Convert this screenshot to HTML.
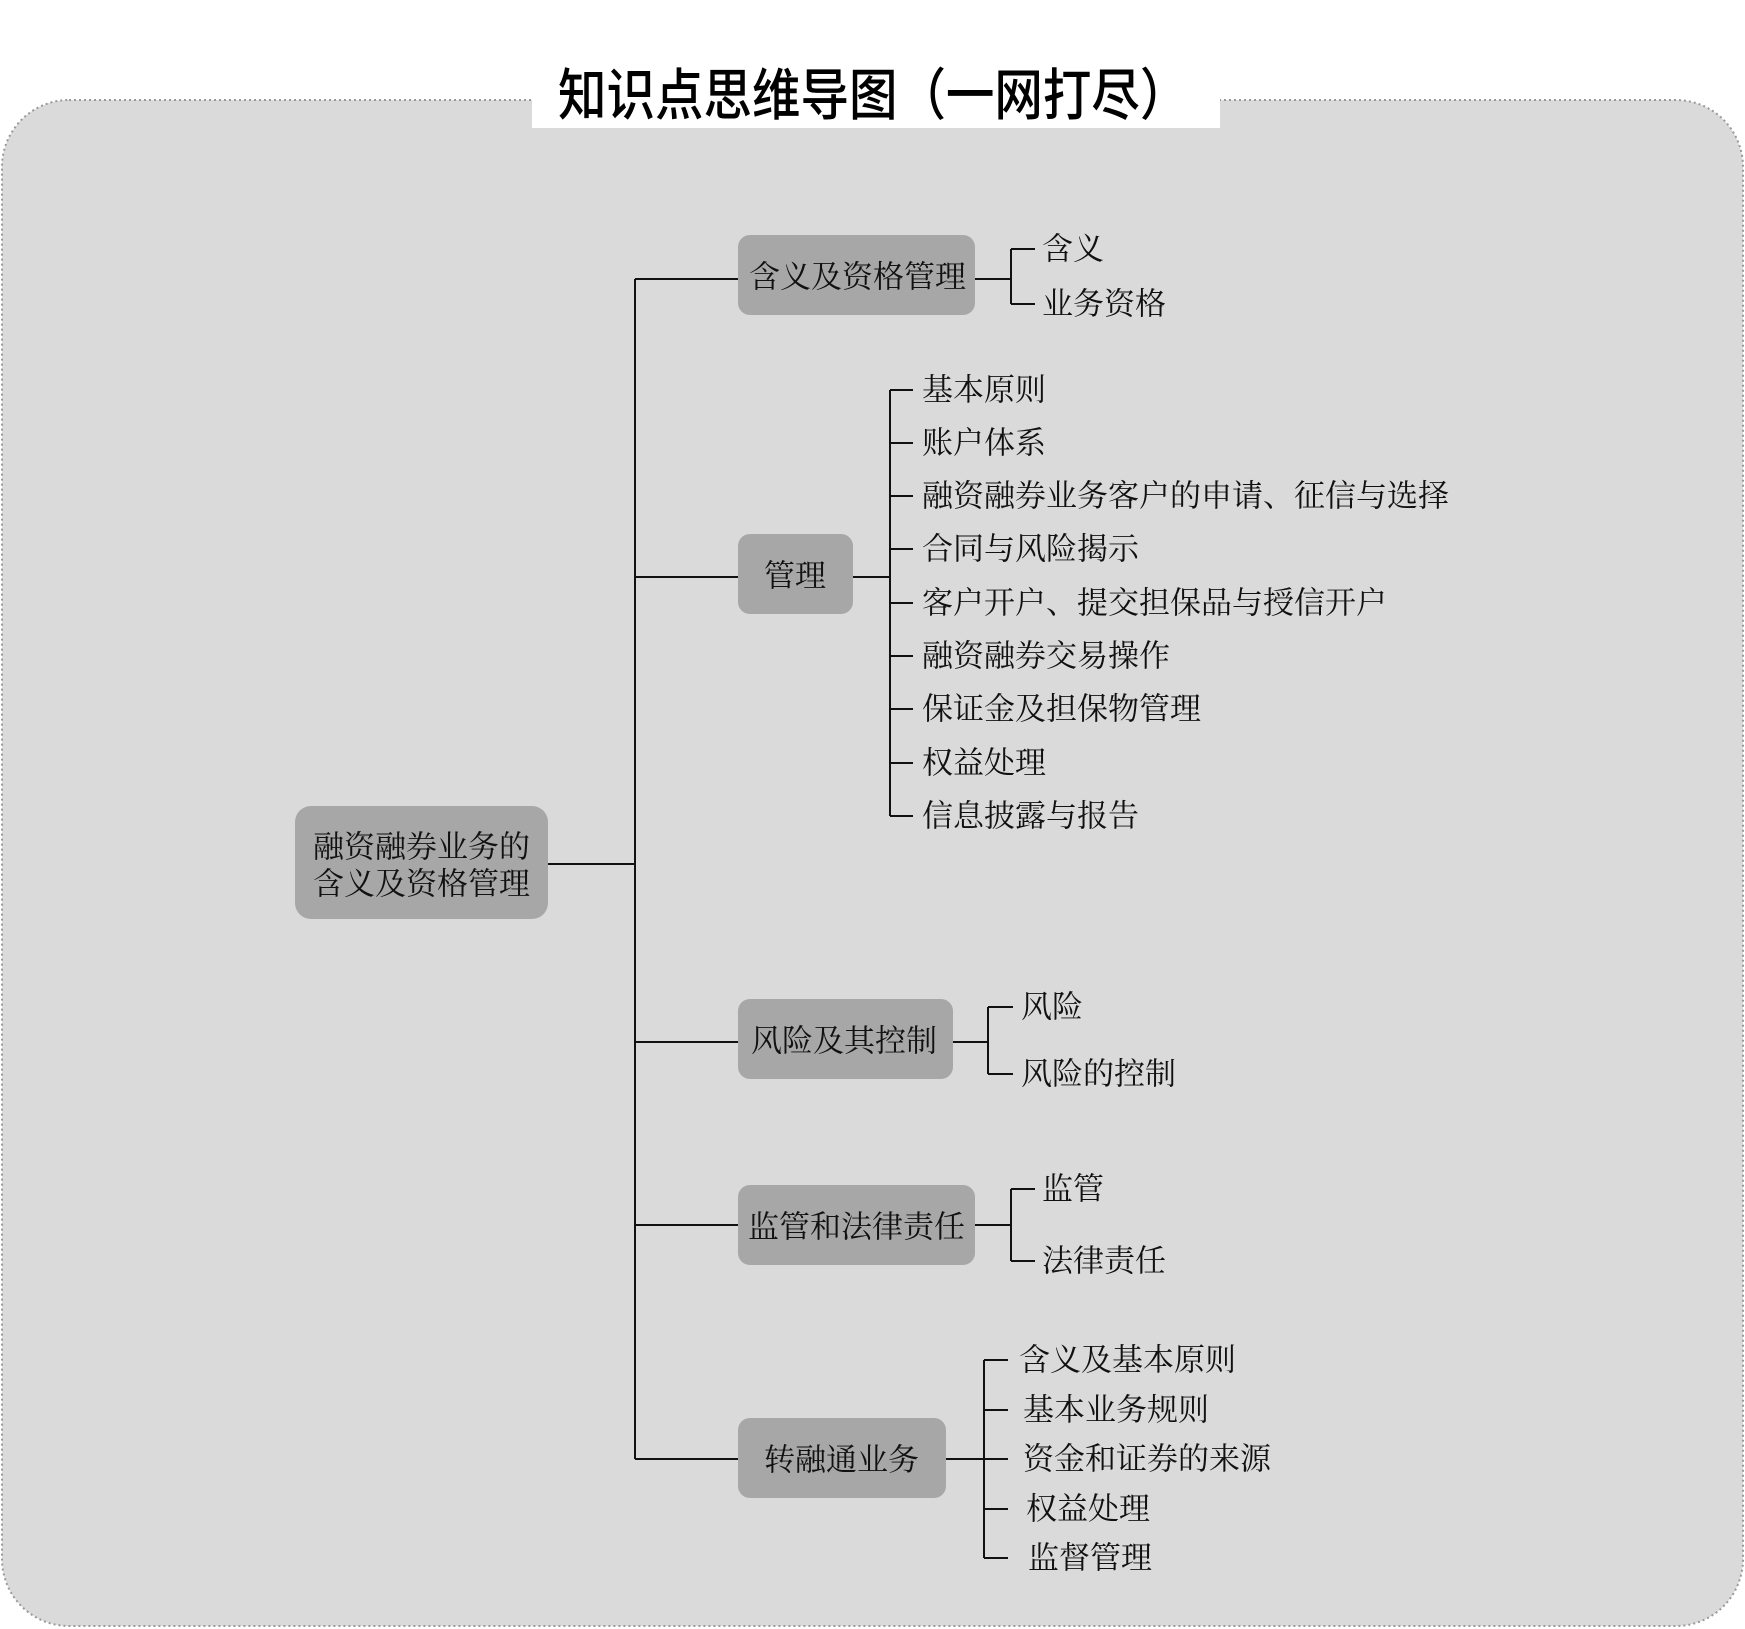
<!DOCTYPE html>
<html><head><meta charset="utf-8"><style>
html,body{margin:0;padding:0;background:#fff;}
svg{display:block}
.t{font-family:"Liberation Serif","Noto Serif CJK SC",serif;font-size:31px;fill:#111;dominant-baseline:central;}
.h{font-family:"Liberation Sans","Noto Sans CJK SC",sans-serif;font-size:50px;font-weight:500;fill:#000;dominant-baseline:central;}
</style></head><body>
<svg width="1745" height="1629" viewBox="0 0 1745 1629" xmlns="http://www.w3.org/2000/svg">
<rect x="2" y="100" width="1741" height="1526" rx="67" fill="#dadada" stroke="#999" stroke-width="2" stroke-dasharray="2,3"/>
<rect x="532" y="66" width="688" height="62" fill="#fff"/>
<g transform="translate(558,97) scale(0.97,1.12)"><text class="h" x="0" y="0">知识点思维导图（一网打尽）</text></g>
<g fill="#a7a7a7">
<rect x="295" y="806" width="253" height="113" rx="16"/>
<rect x="738" y="235" width="237" height="80" rx="12"/>
<rect x="738" y="534" width="115" height="80" rx="12"/>
<rect x="738" y="999" width="215" height="80" rx="12"/>
<rect x="738" y="1185" width="237" height="80" rx="12"/>
<rect x="738" y="1418" width="208" height="80" rx="12"/>
</g>
<g stroke="#111" stroke-width="2" fill="none">
<path d="M548 864H635M635 279V1459M635 279H738M635 577H738M635 1042H738M635 1225H738M635 1459H738"/>
<path d="M975 279H1011M1011 249V304M1011 249H1035M1011 304H1035"/>
<path d="M853 577H890M890 390V816"/>
<path d="M890 390H913M890 443H913M890 496H913M890 549H913M890 603H913M890 656H913M890 709H913M890 763H913M890 816H913"/>
<path d="M953 1042H988M988 1007V1074M988 1007H1013M988 1074H1013"/>
<path d="M975 1225H1011M1011 1189V1261M1011 1189H1035M1011 1261H1035"/>
<path d="M946 1459H984M984 1360V1558M984 1360H1008M984 1410H1008M984 1459H1008M984 1509H1008M984 1558H1008"/>
</g>
<text class="t" x="313" y="847">融资融券业务的</text>
<text class="t" x="313" y="884">含义及资格管理</text>
<text class="t" x="749" y="277">含义及资格管理</text>
<text class="t" x="764" y="576">管理</text>
<text class="t" x="751" y="1041">风险及其控制</text>
<text class="t" x="748" y="1227">监管和法律责任</text>
<text class="t" x="764" y="1460">转融通业务</text>
<text class="t" x="1042" y="249">含义</text>
<text class="t" x="1042" y="304">业务资格</text>
<text class="t" x="922" y="390">基本原则</text>
<text class="t" x="922" y="443">账户体系</text>
<text class="t" x="922" y="496">融资融券业务客户的申请、征信与选择</text>
<text class="t" x="922" y="549">合同与风险揭示</text>
<text class="t" x="922" y="603">客户开户、提交担保品与授信开户</text>
<text class="t" x="922" y="656">融资融券交易操作</text>
<text class="t" x="922" y="709">保证金及担保物管理</text>
<text class="t" x="922" y="763">权益处理</text>
<text class="t" x="922" y="816">信息披露与报告</text>
<text class="t" x="1021" y="1007">风险</text>
<text class="t" x="1021" y="1074">风险的控制</text>
<text class="t" x="1042" y="1189">监管</text>
<text class="t" x="1042" y="1261">法律责任</text>
<text class="t" x="1019" y="1360">含义及基本原则</text>
<text class="t" x="1023" y="1410">基本业务规则</text>
<text class="t" x="1023" y="1459">资金和证券的来源</text>
<text class="t" x="1026" y="1509">权益处理</text>
<text class="t" x="1028" y="1558">监督管理</text>
</svg>
</body></html>
